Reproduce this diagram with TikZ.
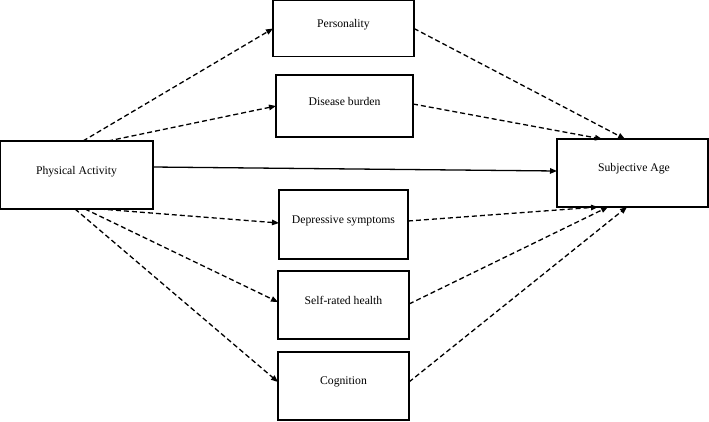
\documentclass[tikz,border=0pt]{standalone}
\usepackage{fontspec}
\setmainfont{Liberation Serif}
\usetikzlibrary{arrows.meta}
\begin{document}
\begin{tikzpicture}[x=1pt,y=-1pt,
  box/.style={draw, line width=1.6pt, inner sep=0pt, outer sep=0pt},
  lbl/.style={font=\fontsize{11.7}{14}\selectfont, inner sep=0pt},
  dasharrow/.style={line width=1.3pt, dash pattern=on 5pt off 3pt, -{Triangle[length=7pt,width=5.5pt]}},
  solidarrow/.style={line width=1.3pt, -{Triangle[length=7pt,width=5.5pt]}}]
\useasboundingbox (0,0) rectangle (709,421);
% boxes
\node[box, minimum width=153pt, minimum height=68pt] (pa) at (76.5,175) {};
\node[lbl] (pat) at (76.5,171.5) {Physical Activity};
\node[box, minimum width=151pt, minimum height=68pt] (sa) at (632.5,173) {};
\node[lbl] (sat) at (634,168.5) {Subjective Age};
\node[box, minimum width=141pt, minimum height=56pt] (pers) at (343.5,28.5) {};
\node[lbl] (perst) at (343.5,24.5) {Personality};
\node[box, minimum width=137pt, minimum height=62pt] (dis) at (344.5,106) {};
\node[lbl] (dist) at (344.5,101.5) {Disease burden};
\node[box, minimum width=129pt, minimum height=69pt] (dep) at (343.5,224.5) {};
\node[lbl] (dept) at (343.5,221) {Depressive symptoms};
\node[box, minimum width=131pt, minimum height=68pt] (srh) at (343.5,305) {};
\node[lbl] (srht) at (343.5,300.5) {Self-rated health};
\node[box, minimum width=131pt, minimum height=68pt] (cog) at (343.5,386) {};
\node[lbl] (cogt) at (343.5,381.5) {Cognition};
% arrows from PA
\draw[dasharrow] ([xshift=83pt]pa.north west) -- (pers.west);
\draw[dasharrow] ([xshift=108pt]pa.north west) -- (dis.west);
\draw[solidarrow] ([yshift=8pt]pa.east) -- ([yshift=2pt]sa.west);
\draw[dasharrow] ([xshift=100pt]pa.south west) -- ([yshift=1.5pt]dep.west);
\draw[dasharrow] ([xshift=85pt]pa.south west) -- ([yshift=3pt]srh.west);
\draw[dasharrow] ([xshift=75pt]pa.south west) -- ([yshift=4pt]cog.west);
% arrows to SA
\draw[dasharrow] (pers.east) -- ([xshift=68pt]sa.north west);
\draw[dasharrow] ([yshift=2pt]dis.east) -- ([xshift=45pt]sa.north west);
\draw[dasharrow] ([yshift=3.5pt]dep.east) -- ([xshift=41pt]sa.south west);
\draw[dasharrow] ([yshift=1pt]srh.east) -- ([xshift=51pt]sa.south west);
\draw[dasharrow] ([yshift=4pt]cog.east) -- ([xshift=70pt]sa.south west);
\end{tikzpicture}
\end{document}
